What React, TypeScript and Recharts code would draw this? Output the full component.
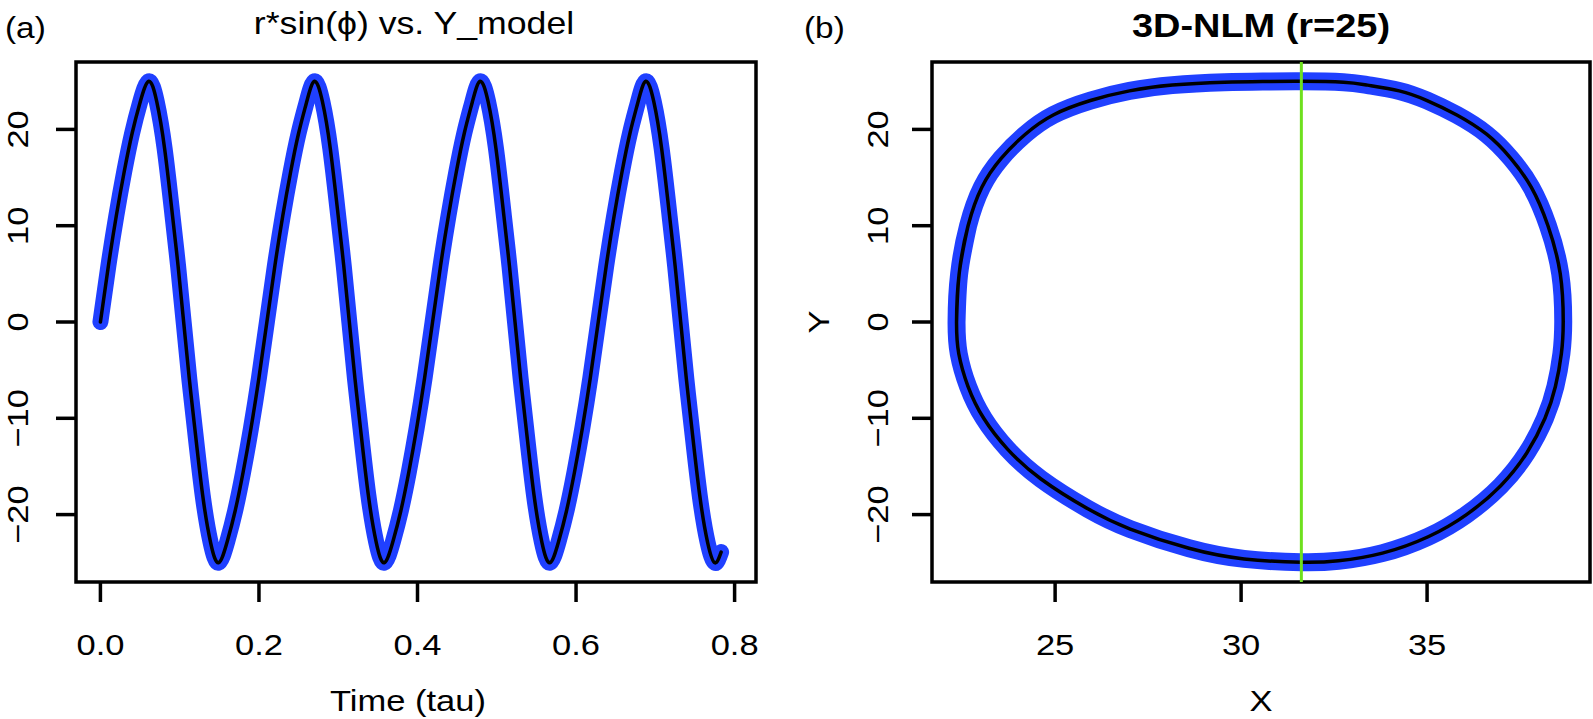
import React from 'react'
import { LineChart, Line, XAxis, YAxis, ReferenceArea, ReferenceLine } from 'recharts'

// panel (a): time vs r*sin(phi) / Y_model
const TAU = [
  0.000, 0.010, 0.020, 0.030, 0.040, 0.050, 0.061,
  0.071, 0.081, 0.091, 0.098, 0.105, 0.112, 0.119, 0.129, 0.139, 0.149,
  0.160, 0.170, 0.180, 0.190, 0.200, 0.210, 0.220, 0.230, 0.240, 0.250, 0.260, 0.270,
  0.280, 0.290, 0.300, 0.307, 0.314, 0.321, 0.328, 0.338, 0.348, 0.358,
  0.369, 0.379, 0.389, 0.399, 0.409, 0.419, 0.429, 0.439, 0.449, 0.459, 0.469, 0.479,
  0.489, 0.499, 0.509, 0.516, 0.523, 0.530, 0.537, 0.547, 0.557, 0.567,
  0.578, 0.588, 0.598, 0.608, 0.618, 0.628, 0.638, 0.648, 0.658, 0.668, 0.678, 0.688,
  0.698, 0.708, 0.718, 0.725, 0.732, 0.739, 0.746, 0.756, 0.766, 0.775,
  0.783,
]
const Y_MODEL = [
  0.0, 5.8, 11.0, 15.6, 19.6, 22.8, 25.0,
  22.9, 18.0, 11.0, 5.8, 0.0, -5.8, -11.0, -18.0, -22.9, -25.0,
  -22.8, -19.6, -15.6, -11.0, -5.8, 0.0, 5.8, 11.0, 15.6, 19.6, 22.8, 25.0,
  22.9, 18.0, 11.0, 5.8, 0.0, -5.8, -11.0, -18.0, -22.9, -25.0,
  -22.8, -19.6, -15.6, -11.0, -5.8, 0.0, 5.8, 11.0, 15.6, 19.6, 22.8, 25.0,
  22.9, 18.0, 11.0, 5.8, 0.0, -5.8, -11.0, -18.0, -22.9, -25.0,
  -22.8, -19.6, -15.6, -11.0, -5.8, 0.0, 5.8, 11.0, 15.6, 19.6, 22.8, 25.0,
  22.9, 18.0, 11.0, 5.8, 0.0, -5.8, -11.0, -18.0, -22.9, -25.0,
  -23.9,
]

// panel (b): X-Y orbit, one loop plus a short overlap to close it
const ORBIT_X = [
  22.35, 22.42, 22.66, 23.03, 23.55, 24.20, 24.95, 25.95, 27.00, 28.15, 29.55, 30.65, 31.62,
  32.75, 33.40, 34.25, 35.00, 35.80, 36.60, 37.25, 37.80, 38.25, 38.58, 38.66,
  38.61, 38.45, 38.17, 37.68, 36.98, 36.06, 35.03, 33.80, 32.62, 31.62,
  30.08, 28.60, 27.02, 25.88, 24.62, 23.72, 23.08, 22.66, 22.41,
  22.35, 22.42, 22.66,
]
const ORBIT_Y = [
  0.0, 5.0, 10.0, 14.0, 17.0, 19.5, 21.5, 23.0, 24.0, 24.6, 24.9, 24.98, 25.0,
  24.9, 24.6, 24.0, 23.0, 21.5, 19.5, 17.0, 14.0, 10.0, 5.0, 0.0,
  -3.3, -6.7, -10.0, -13.6, -17.0, -20.0, -22.3, -24.0, -24.8, -24.95,
  -24.6, -23.5, -21.5, -19.4, -16.3, -13.2, -10.0, -6.7, -3.3,
  0.0, 5.0, 10.0,
]
const GREEN_X = 31.62

const TIME_TICKS = [0, 0.2, 0.4, 0.6, 0.8]
const X_TICKS = [25, 30, 35]
const Y_TICKS = [-20, -10, 0, 10, 20]

const TIME_DOMAIN = [-0.0308, 0.827]
const X_DOMAIN = [21.69, 39.38]
const Y_DOMAIN = [-27, 27]

const W = 1593
const H = 719
const FONT = "'Liberation Sans', Arial, Helvetica, sans-serif"
const BLUE = '#2040ff'
const STRETCH = 1.15

const timeData = TAU.map((t, i) => ({ tau: t, y: Y_MODEL[i] }))
const orbitData = ORBIT_X.map((x, i) => ({ x, y: ORBIT_Y[i] }))

const fmtY = (v: number) => (v < 0 ? '\u2212' + Math.abs(v) : String(v))

function Txt({ x, y, size, rotate = 0, anchor = 'middle', weight = 'normal', children }: any) {
  return (
    <text
      transform={`translate(${x},${y}) rotate(${rotate}) scale(${STRETCH},1)`}
      textAnchor={anchor}
      fontSize={size}
      fontWeight={weight}
      fontFamily={FONT}
      fill="#000"
    >
      {children}
    </text>
  )
}

const tickLine = { stroke: '#000', strokeWidth: 3.5 }

export default function App() {
  return (
    <div style={{ position: 'absolute', left: 0, top: 0, width: W, height: H, background: '#fff' }}>
      <div style={{ position: 'absolute', left: 0, top: 0 }}>
        <LineChart width={W} height={H} data={timeData} margin={{ top: 62, right: W - 756, bottom: 0, left: 0 }}>
          <XAxis
            dataKey="tau"
            type="number"
            domain={TIME_DOMAIN}
            ticks={TIME_TICKS}
            interval={0}
            allowDataOverflow
            height={137}
            axisLine={false}
            tickSize={20}
            tickLine={tickLine}
            tick={(p: any) => <Txt x={p.x} y={655} size={30}>{Number(p.payload.value).toFixed(1)}</Txt>}
          />
          <YAxis
            type="number"
            domain={Y_DOMAIN}
            ticks={Y_TICKS}
            interval={0}
            allowDataOverflow
            width={76}
            axisLine={false}
            tickSize={20}
            tickLine={tickLine}
            tick={(p: any) => <Txt x={28} y={p.y} rotate={-90} size={30}>{fmtY(p.payload.value)}</Txt>}
          />
          <ReferenceArea
            x1={TIME_DOMAIN[0]} x2={TIME_DOMAIN[1]} y1={Y_DOMAIN[0]} y2={Y_DOMAIN[1]}
            fill="none" fillOpacity={0} stroke="#000" strokeWidth={3.5} ifOverflow="visible"
          />
          <Line dataKey="y" type="natural" stroke={BLUE} strokeWidth={16} dot={false}
            strokeLinecap="round" strokeLinejoin="round" isAnimationActive={false} />
          <Line dataKey="y" type="natural" stroke="#000" strokeWidth={3.5} dot={false}
            strokeLinecap="round" strokeLinejoin="round" isAnimationActive={false} />
        </LineChart>
      </div>

      <div style={{ position: 'absolute', left: 0, top: 0 }}>
        <LineChart width={W} height={H} data={orbitData} margin={{ top: 62, right: 3, bottom: 0, left: 0 }}>
          <XAxis
            dataKey="x"
            type="number"
            domain={X_DOMAIN}
            ticks={X_TICKS}
            interval={0}
            allowDataOverflow
            height={137}
            axisLine={false}
            tickSize={20}
            tickLine={tickLine}
            tick={(p: any) => <Txt x={p.x} y={655} size={30}>{p.payload.value}</Txt>}
          />
          <YAxis
            type="number"
            domain={Y_DOMAIN}
            ticks={Y_TICKS}
            interval={0}
            allowDataOverflow
            width={932}
            axisLine={false}
            tickSize={20}
            tickLine={tickLine}
            tick={(p: any) => <Txt x={888} y={p.y} rotate={-90} size={30}>{fmtY(p.payload.value)}</Txt>}
          />
          <ReferenceArea
            x1={X_DOMAIN[0]} x2={X_DOMAIN[1]} y1={Y_DOMAIN[0]} y2={Y_DOMAIN[1]}
            fill="none" fillOpacity={0} stroke="#000" strokeWidth={3.5} ifOverflow="visible"
          />
          <Line dataKey="y" type="natural" stroke={BLUE} strokeWidth={18} dot={false}
            strokeLinecap="round" strokeLinejoin="round" isAnimationActive={false} />
          <Line dataKey="y" type="natural" stroke="#000" strokeWidth={3.5} dot={false}
            strokeLinecap="round" strokeLinejoin="round" isAnimationActive={false} />
          <ReferenceLine x={GREEN_X} stroke="#6ee01e" strokeWidth={3} ifOverflow="visible" />
        </LineChart>
      </div>

      <svg width={W} height={H} style={{ position: 'absolute', left: 0, top: 0, pointerEvents: 'none' }}>
        <Txt x={5} y={38} size={29} anchor="start">(a)</Txt>
        <Txt x={414} y={34} size={31}>r*sin(ϕ) vs. Y_model</Txt>
        <Txt x={408} y={711} size={30}>Time (tau)</Txt>
        <Txt x={804} y={38} size={29} anchor="start">(b)</Txt>
        <Txt x={1261} y={37} size={33} weight="bold">3D-NLM (r=25)</Txt>
        <Txt x={1261} y={711} size={30}>X</Txt>
        <Txt x={829} y={322} size={30} rotate={-90}>Y</Txt>
      </svg>
    </div>
  )
}
